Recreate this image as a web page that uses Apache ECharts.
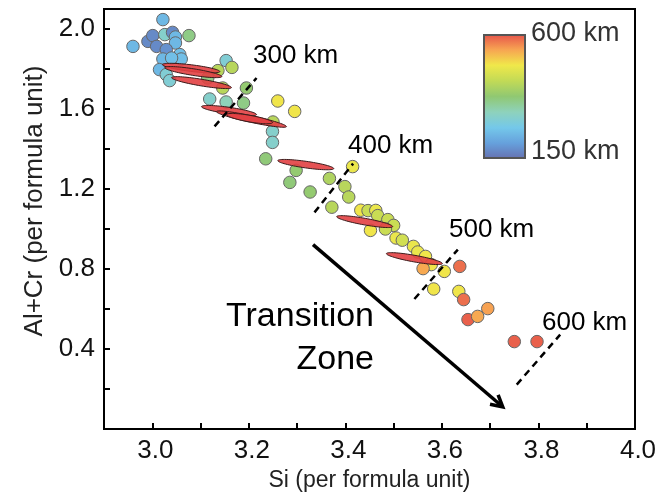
<!DOCTYPE html>
<html>
<head>
<meta charset="utf-8">
<script src="https://cdn.jsdelivr.net/npm/echarts@6/dist/echarts.min.js"></script>
<style>html,body{margin:0;padding:0;background:#fff}#c{width:668px;height:492px}</style>
</head>
<body>
<div id="c"></div>
<script>
// Garnet analyses: [Si, Al+Cr, depth km]
const pointSi = [3.022,2.960,2.991,3.001,3.026,3.042,3.048,3.048,3.076,3.009,3.029,3.022,3.057,3.060,3.015,3.029,3.036,3.040,3.153,3.165,3.136,3.115,3.146,3.195,3.119,3.153,3.189,3.260,3.295,3.250,3.249,3.249,
  3.235,3.298,3.285,3.327,3.367,3.399,3.407,3.372,3.415,3.432,3.447,3.463,3.467,3.488,3.500,3.483,3.452,3.505,3.518,3.541,3.550,3.566,3.578,3.561,3.605,3.637,3.583,3.635,3.645,3.654,3.674,3.695,3.750,3.797];
const pointAlCr = [2.047,1.913,1.938,1.967,1.972,1.983,1.960,1.930,1.967,1.913,1.897,1.850,1.872,1.850,1.797,1.772,1.742,1.855,1.842,1.808,1.792,1.755,1.705,1.705,1.650,1.635,1.630,1.640,1.588,1.535,1.488,1.433,
  1.351,1.293,1.233,1.185,1.253,1.212,1.160,1.109,1.312,1.094,1.092,1.093,1.067,1.047,1.018,1.000,0.993,0.955,0.944,0.913,0.885,0.863,0.822,0.802,0.788,0.813,0.700,0.688,0.647,0.547,0.563,0.602,0.437,0.437];
const pointDepth = [240,240,180,180,300,180,240,240,360,180,190,240,250,250,240,290,290,250,290,420,420,360,420,380,300,320,360,490,490,420,300,300,
  370,380,370,380,410,420,420,420,480,490,440,480,440,440,440,440,490,480,450,480,480,490,490,540,490,580,490,490,580,590,540,545,590,590];

// Red ellipses: [Si start, AlCr start, Si end, AlCr end]
const ellipseSi1 = [3.021,3.026,3.040,3.102,3.133,3.154,3.260,3.382,3.485];
const ellipseAl1 = [1.822,1.807,1.757,1.612,1.587,1.572,1.342,1.062,0.877];
const ellipseSi2 = [3.140,3.144,3.164,3.216,3.278,3.249,3.376,3.498,3.601];
const ellipseAl2 = [1.787,1.762,1.707,1.572,1.512,1.532,1.302,1.012,0.827];

// Depth markers (dashed lines)
const depthLabels = ['300 km','400 km','500 km','600 km'];
const depthSi1 = [3.129,3.336,3.543,3.755];
const depthAl1 = [1.513,1.083,0.650,0.222];
const depthSi2 = [3.216,3.416,3.633,3.845];
const depthAl2 = [1.755,1.327,0.897,0.472];

// Transition zone arrow
const arrowFrom = [3.333,0.922];
const arrowTo = [3.726,0.110];

const depthColors = ['#6670b0','#66a0dc','#74c8ea','#8ed2bc','#90c872','#c2da56','#f0e84a','#f7a452','#e6514a'];
const depthMin = 150, depthMax = 600;

const FONT = 'Liberation Sans, Arial, sans-serif';
const chart = echarts.init(document.getElementById('c'), null, {renderer:'canvas'});

const points = pointSi.map((x,i)=>[x, pointAlCr[i], pointDepth[i]]);
const ellipses = ellipseSi1.map((x,i)=>[x, ellipseAl1[i], ellipseSi2[i], ellipseAl2[i]]);
const dashSeries = depthSi1.map((x,i)=>({
  type:'line', data:[[x, depthAl1[i]],[depthSi2[i], depthAl2[i]]], symbol:'none', silent:true, z:5,
  lineStyle:{color:'#000', width:2.5, type:[7,5]}
}));

const labelPos = [[253,56],[348,146],[449,230],[542,323]];

chart.setOption({
  animation:false,
  grid:{left:104, top:9, right:33, bottom:63, show:true, borderColor:'#000', borderWidth:2,
    containLabel:false, outerBoundsMode:'none'},
  xAxis:{type:'value', min:2.9, max:4.0, interval:0.1,
    name:'Si (per formula unit)', nameLocation:'middle', nameGap:32,
    nameTextStyle:{fontFamily:FONT, fontSize:23, color:'#222'},
    axisLine:{lineStyle:{color:'#000', width:2}},
    axisTick:{inside:true, length:6, lineStyle:{color:'#000', width:2}},
    splitLine:{show:false},
    axisLabel:{margin:9, fontFamily:FONT, fontSize:26, color:'#111', padding:[0,0,0,6],
      formatter:v=>{const k=Math.round(v*10); return (k%2===0 && k>=30)? (k/10).toFixed(1):'';}}
  },
  yAxis:{type:'value', min:0, max:2.1, interval:0.2,
    name:'Al+Cr (per formula unit)', nameLocation:'middle', nameGap:51,
    nameTextStyle:{fontFamily:FONT, fontSize:26, color:'#222', padding:[0,0,0,36]},
    axisLine:{lineStyle:{color:'#000', width:2}},
    axisTick:{inside:true, length:6, lineStyle:{color:'#000', width:2}},
    splitLine:{show:false},
    axisLabel:{margin:9, fontFamily:FONT, fontSize:26, color:'#111',
      formatter:v=>{const k=Math.round(v*10); return (k%4===0 && k>0 && k<=20)? (k/10).toFixed(1):'';}}
  },
  visualMap:{show:false, type:'continuous', dimension:2, min:depthMin, max:depthMax, seriesIndex:0,
    inRange:{color:depthColors}},
  series:[
    {type:'scatter', data:points, symbolSize:12.5, z:2,
      itemStyle:{borderColor:'#666', borderWidth:1, opacity:1}},
    {type:'custom', data:ellipses, z:3, silent:true,
      renderItem:(params, api)=>{
        const p1 = api.coord([api.value(0), api.value(1)]);
        const p2 = api.coord([api.value(2), api.value(3)]);
        const cx=(p1[0]+p2[0])/2, cy=(p1[1]+p2[1])/2;
        const dx=p2[0]-p1[0], dy=p2[1]-p1[1];
        const a=Math.sqrt(dx*dx+dy*dy)/2, b=3.3, ang=Math.atan2(dy,dx);
        const ca=Math.cos(ang), sa=Math.sin(ang);
        const pts=[];
        for(let t=0;t<72;t++){
          const th=t/72*Math.PI*2;
          const ex=a*Math.cos(th), ey=b*Math.sin(th);
          pts.push([cx+ex*ca-ey*sa, cy+ex*sa+ey*ca]);
        }
        return {type:'polygon', shape:{points:pts},
          style:{fill:'rgba(226,64,66,0.9)', stroke:'#3a1a1a', lineWidth:1}};
      }},
    {type:'custom', data:[[arrowFrom[0],arrowFrom[1],arrowTo[0],arrowTo[1]]], z:4, silent:true,
      renderItem:(params, api)=>{
        const p1 = api.coord([api.value(0), api.value(1)]);
        const p2 = api.coord([api.value(2), api.value(3)]);
        const ang=Math.atan2(p2[1]-p1[1], p2[0]-p1[0]);
        const L=13, w=0.5;
        const h1=[p2[0]-L*Math.cos(ang-w), p2[1]-L*Math.sin(ang-w)];
        const h2=[p2[0]-L*Math.cos(ang+w), p2[1]-L*Math.sin(ang+w)];
        return {type:'group', children:[
          {type:'line', shape:{x1:p1[0],y1:p1[1],x2:p2[0]-1,y2:p2[1]-1}, style:{stroke:'#000', lineWidth:3.5}},
          {type:'polyline', shape:{points:[h1,p2,h2]}, style:{stroke:'#000', lineWidth:3.5, fill:null, lineJoin:'miter'}}
        ]};
      }},
    ...dashSeries
  ],
  graphic:[
    {type:'rect', left:483, top:34, shape:{width:41, height:123},
      style:{fill:new echarts.graphic.LinearGradient(0,0,0,1, depthColors.slice().reverse().map((c,i,arr)=>({offset:i/(arr.length-1), color:c}))),
        stroke:'#555', lineWidth:2}, z:10},
    {type:'text', left:531, top:20, style:{text:'600 km', font:'27px '+FONT, fill:'#333'}, z:10},
    {type:'text', left:531, top:138, style:{text:'150 km', font:'27px '+FONT, fill:'#333'}, z:10},
    ...depthLabels.map((t,i)=>({type:'text', x:labelPos[i][0], y:labelPos[i][1],
      style:{text:t, font:'26px '+FONT, fill:'#000', verticalAlign:'middle'}, z:10})),
    {type:'text', x:374, y:317, style:{text:'Transition', font:'34px '+FONT, fill:'#000', align:'right', verticalAlign:'middle'}, z:10},
    {type:'text', x:374, y:360, style:{text:'Zone', font:'34px '+FONT, fill:'#000', align:'right', verticalAlign:'middle'}, z:10}
  ]
});
</script>
</body>
</html>
